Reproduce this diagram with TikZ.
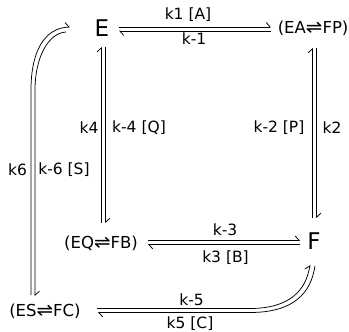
\documentclass[tikz,border=0pt]{standalone}
\usepackage{fontspec}
\setmainfont{DejaVu Sans}
\usetikzlibrary{arrows.meta}
\newcommand{\eqh}{\scalebox{1.2}[1.1]{⇌}}
\begin{document}
\begin{tikzpicture}[x=1pt,y=-1pt,
  lbl/.style={font=\fontsize{15.5}{18}\selectfont, inner sep=0pt},
  spc/.style={font=\fontsize{16.5}{19}\selectfont, inner sep=0pt},
  big/.style={font=\fontsize{23}{26}\selectfont, inner sep=0pt},
  hl/.style={line width=0.75pt},
  hp/.style={hl, -{Straight Barb[left,length=4pt,width=9pt]}}]
\useasboundingbox (0,0) rectangle (349,332);
% species
\node[big] (E) at (102,28) {E};
\node[big] (F) at (314,241) {F};
\node[spc, anchor=east] (EAFP) at (348.6,28) {(EA\eqh FP)};
\node[spc] (EQFB) at (101,243) {(EQ\eqh FB)};
\node[spc] (ESFC) at (45,311) {(ES\eqh FC)};
% top: E <=> EAFP
\coordinate (t1) at (119,27); \coordinate (t2) at (271,27);
\coordinate (t3) at (119,31); \coordinate (t4) at (271,31);
\draw[hp] (t1) -- (t2);
\draw[hp] (t4) -- (t3);
\node[lbl] (k1) at (188,15) {k1 [A]};
\node[lbl] (km1) at (194,39) {k-1};
% E <=> EQFB
\coordinate (v1) at (101.5,223); \coordinate (v2) at (101.5,47);
\coordinate (v3) at (105.5,47); \coordinate (v4) at (105.5,223);
\draw[hp] (v1) -- (v2);
\draw[hp] (v3) -- (v4);
\node[lbl] (k4) at (89,128) {k4};
\node[lbl] (km4) at (139,128) {k-4 [Q]};
% EAFP <=> F
\coordinate (r1) at (312.5,218); \coordinate (r2) at (312.5,48);
\coordinate (r3) at (316.5,48); \coordinate (r4) at (316.5,218);
\draw[hp] (r1) -- (r2);
\draw[hp] (r3) -- (r4);
\node[lbl] (km2) at (279,128) {k-2 [P]};
\node[lbl] (k2) at (332,128) {k2};
% EQFB <=> F
\coordinate (m1) at (148,240.5); \coordinate (m2) at (300,240.5);
\coordinate (m3) at (148,244.5); \coordinate (m4) at (300,244.5);
\draw[hp] (m1) -- (m2);
\draw[hp] (m4) -- (m3);
\node[lbl] (km3) at (225,230) {k-3};
\node[lbl] (k3) at (225.5,258) {k3 [B]};
% ESFC <=> F (curved)
\coordinate (b1) at (97,308.5); \coordinate (b2) at (310,265);
\coordinate (b3) at (98,312.5); \coordinate (b4) at (315,266);
\draw[hp] (b1) -- (250,308.5) .. controls (290,308.5) and (306,290) .. (b2);
\draw[hp] (b4) .. controls (311,292) and (295,312.5) .. (250,312.5) -- (b3);
\node[lbl] (km5) at (191.5,300) {k-5};
\node[lbl] (k5) at (190,324) {k5 [C]};
% ESFC <=> E (curved left)
\coordinate (l1) at (31,295); \coordinate (l2) at (70,27);
\coordinate (l3) at (66,32); \coordinate (l4) at (35,296);
\draw[hp] (l1) -- (31,90) .. controls (31,52) and (44,28) .. (l2);
\draw[hp] (l3) .. controls (48,33) and (35,58) .. (35,90) -- (l4);
\node[lbl] (k6) at (17.5,170) {k6};
\node[lbl] (km6) at (64,170) {k-6 [S]};
\end{tikzpicture}
\end{document}
